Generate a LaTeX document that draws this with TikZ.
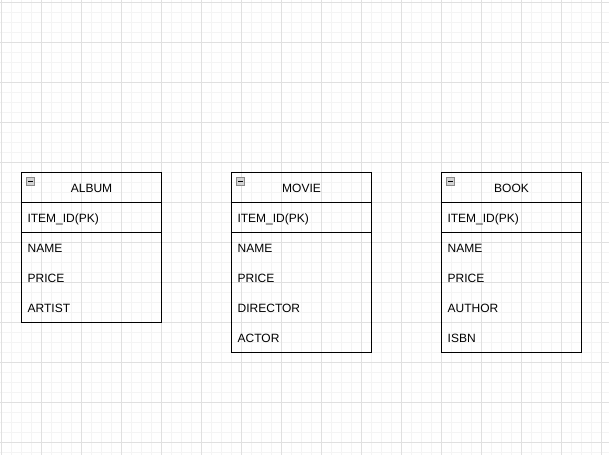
\documentclass[tikz,border=0pt]{standalone}
\usepackage{fontspec}
\setmainfont{Liberation Sans}
\usetikzlibrary{calc}
\definecolor{gridmajor}{HTML}{E0E0E0}
\definecolor{gridminor}{HTML}{F4F4F4}
\definecolor{iconfill}{HTML}{D4D4D4}
\definecolor{iconline}{HTML}{8A8A8A}
\tikzset{
  erfont/.style={font=\fontsize{12}{14}\selectfont, text height=10.6pt, text depth=0pt},
  hdr/.style={draw=black, line width=1pt, minimum width=140pt, minimum height=30pt, anchor=north west, inner sep=0pt, outer sep=0pt, erfont},
  pkbox/.style={draw=black, line width=1pt, text width=128pt, inner xsep=6pt, inner ysep=0pt, minimum height=30pt, align=left, anchor=north west, outer sep=0pt, erfont},
  bodybox/.style={draw=black, line width=1pt, minimum width=140pt, inner sep=0pt, outer sep=0pt, anchor=north west},
  fieldtxt/.style={anchor=west, inner sep=0pt, erfont},
  iconbox/.style={draw=iconline, fill=iconfill, line width=0.6pt},
}
\newcommand{\erIcon}[1]{%
  \draw[iconbox] ($(#1.north west)+(5,5)$) rectangle ($(#1.north west)+(13,13)$);
  \draw[black, line width=1pt] ($(#1.north west)+(6.8,9)$) -- ($(#1.north west)+(11.2,9)$);
}
\begin{document}
\begin{tikzpicture}[x=1pt, y=-1pt]
\useasboundingbox (0,0) rectangle (609,455);
\fill[white] (0,0) rectangle (609,455);
% grid
\foreach \gx in {1.5,11.5,...,601.5} \draw[gridminor, line width=1pt] (\gx,0) -- (\gx,455);
\foreach \gy in {2.5,12.5,...,452.5} \draw[gridminor, line width=1pt] (0,\gy) -- (609,\gy);
\foreach \gx in {1.5,41.5,...,601.5} \draw[gridmajor, line width=1pt] (\gx,0) -- (\gx,455);
\foreach \gy in {2.5,42.5,...,442.5} \draw[gridmajor, line width=1pt] (0,\gy) -- (609,\gy);

% ALBUM
\node[hdr] (album) at (21.5,172.5) {ALBUM};
\node[pkbox] (album-pk) at (album.south west) {ITEM\_ID(PK)};
\node[bodybox, minimum height=90pt] (album-body) at (album-pk.south west) {};
\node[fieldtxt] (album-f1) at ($(album-body.north west)+(6,15)$) {NAME};
\node[fieldtxt] (album-f2) at ($(album-body.north west)+(6,45)$) {PRICE};
\node[fieldtxt] (album-f3) at ($(album-body.north west)+(6,75)$) {ARTIST};
\erIcon{album}

% MOVIE
\node[hdr] (movie) at (231.5,172.5) {MOVIE};
\node[pkbox] (movie-pk) at (movie.south west) {ITEM\_ID(PK)};
\node[bodybox, minimum height=120pt] (movie-body) at (movie-pk.south west) {};
\node[fieldtxt] (movie-f1) at ($(movie-body.north west)+(6,15)$) {NAME};
\node[fieldtxt] (movie-f2) at ($(movie-body.north west)+(6,45)$) {PRICE};
\node[fieldtxt] (movie-f3) at ($(movie-body.north west)+(6,75)$) {DIRECTOR};
\node[fieldtxt] (movie-f4) at ($(movie-body.north west)+(6,105)$) {ACTOR};
\erIcon{movie}

% BOOK
\node[hdr] (book) at (441.5,172.5) {BOOK};
\node[pkbox] (book-pk) at (book.south west) {ITEM\_ID(PK)};
\node[bodybox, minimum height=120pt] (book-body) at (book-pk.south west) {};
\node[fieldtxt] (book-f1) at ($(book-body.north west)+(6,15)$) {NAME};
\node[fieldtxt] (book-f2) at ($(book-body.north west)+(6,45)$) {PRICE};
\node[fieldtxt] (book-f3) at ($(book-body.north west)+(6,75)$) {AUTHOR};
\node[fieldtxt] (book-f4) at ($(book-body.north west)+(6,105)$) {ISBN};
\erIcon{book}
\end{tikzpicture}
\end{document}
